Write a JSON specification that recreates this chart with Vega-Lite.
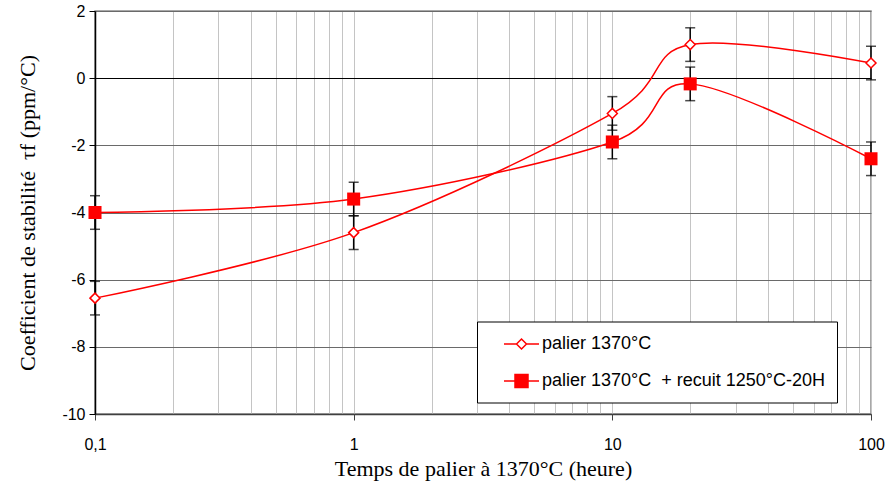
{
  "$schema": "https://vega.github.io/schema/vega-lite/v6.json",
  "width": 776,
  "height": 403,
  "autosize": {"type": "none"},
  "padding": {"left": 95, "top": 11, "right": 21, "bottom": 75},
  "background": "white",
  "config": {
    "view": {"stroke": "#8c8c8c", "strokeWidth": 1.5},
    "axis": {"labelFont": "Liberation Sans", "labelFontSize": 16, "labelColor": "black", "titleFont": "Liberation Serif", "titleFontSize": 22, "titleFontWeight": "normal", "titleColor": "black"}
  },
  "data": {
    "values": [
      {"t": 0.1, "tau": -6.55, "lo": -7.05, "hi": -6.05, "serie": "palier 1370°C"},
      {"t": 1, "tau": -4.6, "lo": -5.1, "hi": -4.1, "serie": "palier 1370°C"},
      {"t": 10, "tau": -1.05, "lo": -1.55, "hi": -0.55, "serie": "palier 1370°C"},
      {"t": 20, "tau": 1.0, "lo": 0.5, "hi": 1.5, "serie": "palier 1370°C"},
      {"t": 100, "tau": 0.45, "lo": -0.05, "hi": 0.95, "serie": "palier 1370°C"},
      {"t": 0.1, "tau": -4.0, "lo": -4.5, "hi": -3.5, "serie": "palier 1370°C\u00a0 + recuit 1250°C-20H"},
      {"t": 1, "tau": -3.6, "lo": -4.1, "hi": -3.1, "serie": "palier 1370°C\u00a0 + recuit 1250°C-20H"},
      {"t": 10, "tau": -1.9, "lo": -2.4, "hi": -1.4, "serie": "palier 1370°C\u00a0 + recuit 1250°C-20H"},
      {"t": 20, "tau": -0.17, "lo": -0.67, "hi": 0.33, "serie": "palier 1370°C\u00a0 + recuit 1250°C-20H"},
      {"t": 100, "tau": -2.4, "lo": -2.9, "hi": -1.9, "serie": "palier 1370°C\u00a0 + recuit 1250°C-20H"}
    ]
  },
  "encoding": {
    "x": {
      "field": "t", "type": "quantitative",
      "scale": {"type": "log", "domain": [0.1, 100], "nice": false},
      "axis": {
        "title": "Temps de palier à 1370°C (heure)",
        "values": [0.1,0.2,0.3,0.4,0.5,0.6,0.7,0.8,0.9,1,2,3,4,5,6,7,8,9,10,20,30,40,50,60,70,80,90,100],
        "labelExpr": "datum.value == 0.1 ? '0,1' : (indexof([1,10,100], datum.value) >= 0 ? datum.label : '')",
        "grid": true, "gridColor": "#c4c4c4", "gridWidth": 1,
        "tickColor": "#404040", "tickSize": 6, "tickWidth": 1,
        "tickOpacity": {"condition": {"test": "indexof([0.1,1,10,100], datum.value) >= 0", "value": 1}, "value": 0},
        "domainColor": "#404040", "domainWidth": 1.5,
        "labelPadding": 16, "titlePadding": 6, "labelFlush": false
      }
    }
  },
  "layer": [
    {
      "mark": {"type": "errorbar", "color": "black", "thickness": 1.5, "ticks": {"size": 10, "thickness": 1.5, "color": "black"}},
      "encoding": {
        "y": {"field": "lo", "type": "quantitative", "scale": {"domain": [-10, 2], "nice": false},
          "axis": {
            "title": "Coefficient de stabilité\u00a0 τf (ppm/°C)",
            "values": [-10,-8,-6,-4,-2,0,2],
            "labelExpr": "replace(datum.label, '\u2212', '-')",
            "grid": true,
            "gridColor": {"condition": {"test": "datum.value === 0", "value": "black"}, "value": "#6a6a6a"},
            "gridWidth": 1.2,
            "domainColor": "black", "domainWidth": 1.5,
            "tickColor": "black", "tickSize": 6, "labelPadding": 4, "titlePadding": 22
          }},
        "y2": {"field": "hi"}
      }
    },
    {
      "mark": {"type": "line", "interpolate": "cardinal", "strokeWidth": 1.5},
      "encoding": {
        "y": {"field": "tau", "type": "quantitative"},
        "color": {
          "field": "serie", "type": "nominal",
          "scale": {"domain": ["palier 1370°C", "palier 1370°C\u00a0 + recuit 1250°C-20H"], "range": ["#ff0000", "#ff0000"]},
          "legend": {
            "title": null,
            "orient": "none", "legendX": 382, "legendY": 310.5,
            "fillColor": "white", "strokeColor": "black", "padding": 11.5,
            "symbolSize": 400, "rowPadding": 17, "labelOffset": 31.5,
            "labelFont": "Liberation Sans", "labelFontSize": 18, "labelColor": "black",
            "labelLimit": 600,
            "encode": {
              "legend": {"update": {"width": {"value": 378}}},
              "symbols": {
                "update": {
                  "shape": {"signal": "indexof(datum.value, 'recuit') >= 0 ? 'M0.45,0L3.95,0M1.55,-0.65L2.85,-0.65L2.85,0.65L1.55,0.65Z' : 'M0.45,0L1.7,0M2.7,0L3.95,0M1.7,0L2.2,-0.5L2.7,0L2.2,0.5Z'"},
                  "fill": {"signal": "indexof(datum.value, 'recuit') >= 0 ? '#ff0000' : 'white'"},
                  "fillOpacity": {"value": 1},
                  "stroke": {"value": "#ff0000"},
                  "strokeWidth": {"value": 1.5},
                  "size": {"value": 400}
                }
              }
            }
          }
        }
      }
    },
    {
      "transform": [{"filter": "indexof(datum.serie, 'recuit') < 0"}],
      "mark": {"type": "point", "shape": "diamond", "size": 100, "filled": true, "fill": "white", "stroke": "#ff0000", "strokeWidth": 1.5, "opacity": 1},
      "encoding": {"y": {"field": "tau", "type": "quantitative"}}
    },
    {
      "transform": [{"filter": "indexof(datum.serie, 'recuit') >= 0"}],
      "mark": {"type": "point", "shape": "square", "size": 170, "filled": true, "fill": "#ff0000", "stroke": "#ff0000", "strokeWidth": 0, "opacity": 1},
      "encoding": {"y": {"field": "tau", "type": "quantitative"}}
    }
  ]
}
